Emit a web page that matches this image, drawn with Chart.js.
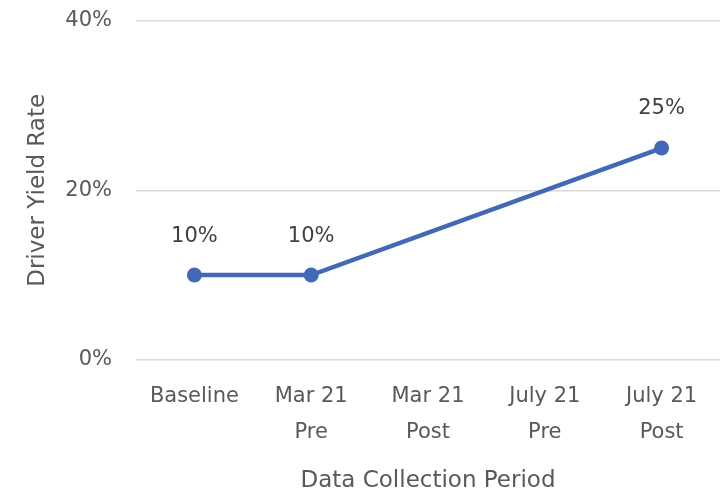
<!DOCTYPE html>
<html>
<head>
<meta charset="utf-8">
<script src="https://cdn.jsdelivr.net/npm/chart.js@4"></script>
<style>
  html, body { margin: 0; padding: 0; background: #fff; }
  #wrap { width: 724px; height: 493px; }
</style>
</head>
<body>
<div id="wrap"><canvas id="chart"></canvas></div>
<script>
// chart values
const periods = [["Baseline"], ["Mar 21", "Pre"], ["Mar 21", "Post"], ["July 21", "Pre"], ["July 21", "Post"]];
const yieldRate = [10, 10, null, null, 25];
const yTicks = [0, 20, 40];

const FONT = "'DejaVu Sans', sans-serif";
const GREY = "#595959";

// draws the value above each point (no datalabels plugin available offline)
const pointLabels = {
    id: "pointLabels",
    afterDatasetsDraw(chart) {
        const ctx = chart.ctx;
        const meta = chart.getDatasetMeta(0);
        ctx.save();
        ctx.font = "21px " + FONT;
        ctx.fillStyle = "#404040";
        ctx.textAlign = "center";
        ctx.textBaseline = "middle";
        meta.data.forEach((pt, i) => {
            const v = yieldRate[i];
            if (v === null) return;
            ctx.fillText(v + "%", pt.x, pt.y - 39);
        });
        ctx.restore();
    }
};

new Chart(document.getElementById("chart"), {
    type: "line",
    data: {
        labels: periods,
        datasets: [{
            data: yieldRate,
            borderColor: "#4169B8",
            backgroundColor: "#4169B8",
            borderWidth: 4.5,
            pointRadius: 7.5,
            pointHoverRadius: 7.5,
            pointBorderWidth: 0,
            spanGaps: true,
            tension: 0
        }]
    },
    options: {
        responsive: true,
        maintainAspectRatio: false,
        animation: false,
        layout: { autoPadding: false, padding: { top: 21, right: 4, left: 24, bottom: 0 } },
        plugins: {
            legend: { display: false },
            tooltip: { enabled: false }
        },
        scales: {
            x: {
                offset: true,
                afterFit: s => { s.paddingLeft = 0; s.paddingRight = 0; },
                grid: { display: false, drawTicks: false },
                border: { display: false },
                ticks: {
                    color: GREY,
                    font: { family: FONT, size: 21, lineHeight: 1.72 },
                    padding: 19,
                    maxRotation: 0,
                    autoSkip: false
                },
                title: {
                    display: true,
                    text: "Data Collection Period",
                    color: GREY,
                    font: { family: FONT, size: 23, lineHeight: 1.0 },
                    padding: { top: 0, bottom: 0 }
                }
            },
            y: {
                min: 0,
                max: 40,
                afterBuildTicks: s => { s.ticks = yTicks.map(v => ({ value: v })); },
                afterFit: s => { s.width = 112; s.paddingTop = 0; s.paddingBottom = 0; },
                grid: { color: "#d9d9d9", lineWidth: 1.5, drawTicks: false },
                border: { display: false },
                ticks: {
                    color: GREY,
                    font: { family: FONT, size: 21 },
                    padding: 24,
                    callback: v => v + "%"
                },
                title: {
                    display: true,
                    text: "Driver Yield Rate",
                    color: GREY,
                    font: { family: FONT, size: 23 },
                    padding: { top: 0, bottom: 0 }
                }
            }
        }
    },
    plugins: [pointLabels]
});
</script>
</body>
</html>
